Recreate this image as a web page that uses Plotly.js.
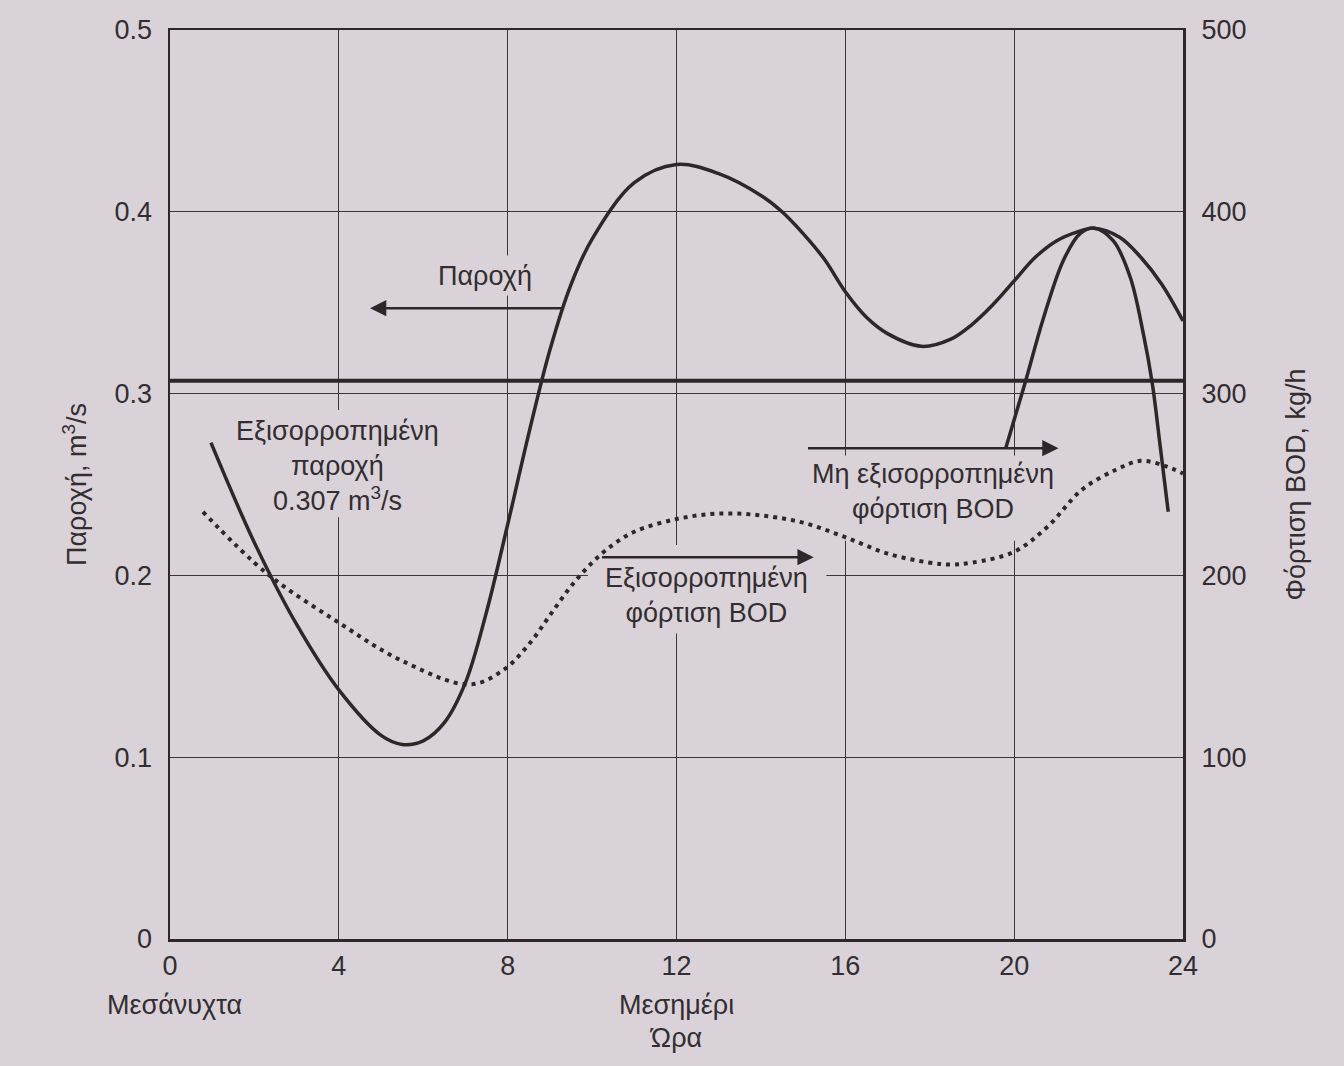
<!DOCTYPE html>
<html>
<head>
<meta charset="utf-8">
<script src="https://cdn.plot.ly/plotly-3.0.1.min.js"></script>
<style>
  html, body { margin: 0; padding: 0; background: #d9d3d9; }
  #chart { width: 1344px; height: 1066px; }
</style>
</head>
<body>
<div id="chart"></div>
<script>
// Flow (left axis, m3/s)
const flowHours = [0.97, 2, 3, 4, 5, 5.5, 6, 6.5, 7, 7.5, 8, 8.5, 9, 9.5, 10, 11, 12, 13, 14, 14.5, 15, 15.5, 16, 16.5, 17, 17.8, 18.5, 19, 19.5, 20, 20.5, 21, 21.5, 21.9, 22.5, 23, 23.5, 24];
const flowValues = [0.273, 0.218, 0.173, 0.137, 0.112, 0.107, 0.109, 0.119, 0.141, 0.180, 0.228, 0.278, 0.324, 0.360, 0.385, 0.416, 0.426, 0.421, 0.409, 0.400, 0.388, 0.374, 0.356, 0.342, 0.333, 0.326, 0.330, 0.338, 0.349, 0.362, 0.375, 0.384, 0.389, 0.391, 0.386, 0.375, 0.360, 0.340];

// Equalized flow (m3/s)
const equalizedFlow = 0.307;
const equalizedFlowHours = [0, 24];

// Equalized BOD load (right axis, kg/h) - dotted
const eqBodHours = [0.78, 2.3, 4, 5.5, 7.1, 7.9, 8.5, 9, 9.5, 10, 10.5, 11, 12, 13, 14, 15, 16, 17, 18, 18.5, 19, 20, 20.8, 21.6, 22.4, 23, 23.6, 24];
const eqBodValues = [235, 201, 174, 153, 140, 148, 162, 178, 194, 207, 217, 224, 231, 234, 233, 229, 221, 212, 207, 206, 207, 213, 227, 247, 258, 263, 260, 256];

// Unequalized BOD load (right axis, kg/h) - solid
const unBodHours = [19.8, 20.26, 20.7, 21.16, 21.56, 21.9, 22.35, 22.75, 23.06, 23.27, 23.46, 23.65];
const unBodValues = [270, 306, 342, 373, 388, 391, 384, 364, 333, 306, 271, 235];

// Axis ticks
const hourTicks = [0, 4, 8, 12, 16, 20, 24];
const flowTicks = [0, 0.1, 0.2, 0.3, 0.4, 0.5];
const flowTickText = ['0', '0.1', '0.2', '0.3', '0.4', '0.5'];
const bodTicks = [0, 100, 200, 300, 400, 500];

const ink = '#2e2729';
const paper = '#d9d3d9';
const fnt = {family: 'Liberation Sans, Arial, sans-serif', size: 27, color: '#332d30'};

const traces = [
  {x: equalizedFlowHours, y: [equalizedFlow, equalizedFlow], mode: 'lines', line: {color: ink, width: 4}, yaxis: 'y', hoverinfo: 'skip'},
  {x: flowHours, y: flowValues, mode: 'lines', line: {color: ink, width: 3.5, shape: 'spline', smoothing: 1}, yaxis: 'y'},
  {x: eqBodHours, y: eqBodValues, mode: 'lines', line: {color: ink, width: 4, dash: '4px,5px', shape: 'spline', smoothing: 1}, yaxis: 'y2'},
  {x: unBodHours, y: unBodValues, mode: 'lines', line: {color: ink, width: 3.5, shape: 'spline', smoothing: 1}, yaxis: 'y2'}
];

function txt(x, y, text) {
  return {x: x, y: y, xref: 'x', yref: 'y', text: text, showarrow: false, font: fnt, align: 'center'};
}
function arrow(x0, x1, y) {
  return {x: x1, y: y, ax: x0, ay: y, xref: 'x', yref: 'y', axref: 'x', ayref: 'y', text: '', showarrow: true, arrowhead: 2, arrowsize: 1.3, arrowwidth: 2.5, arrowcolor: ink};
}
function bottom(x, text) {
  return {x: x, y: -0.0726, xref: 'x', yref: 'paper', yanchor: 'middle', xanchor: 'center', text: text, showarrow: false, font: fnt};
}
// paper-coloured patches that interrupt the grid behind the labels (drawn under the curves)
function gap(x0, x1, y0, y1) {
  return {type: 'rect', xref: 'x', yref: 'y', x0: x0, x1: x1, y0: y0, y1: y1, fillcolor: paper, line: {width: 0}, layer: 'between'};
}

const layout = {
  width: 1344, height: 1066,
  paper_bgcolor: paper, plot_bgcolor: paper,
  margin: {l: 170, r: 161, t: 30, b: 127},
  showlegend: false,
  font: fnt,
  xaxis: {
    range: [0, 24], tickvals: hourTicks, ticktext: hourTicks.map(String),
    showgrid: true, gridcolor: '#3d3538', gridwidth: 1,
    showline: true, linecolor: ink, linewidth: 2.5, mirror: true,
    ticks: 'outside', ticklen: 1, tickcolor: 'rgba(0,0,0,0)',
    zeroline: false, tickfont: fnt,
    title: {text: 'Ώρα', font: fnt, standoff: 48}
  },
  yaxis: {
    range: [0, 0.5], tickvals: flowTicks, ticktext: flowTickText,
    showgrid: true, gridcolor: '#3d3538', gridwidth: 1,
    showline: true, linecolor: ink, linewidth: 2.5, mirror: true,
    ticks: 'outside', ticklen: 10, tickcolor: 'rgba(0,0,0,0)',
    zeroline: false, tickfont: fnt,
    title: {text: 'Παροχή, m<sup>3</sup>/s', font: fnt, standoff: 20}
  },
  yaxis2: {
    range: [0, 500], tickvals: bodTicks, ticktext: bodTicks.map(String),
    overlaying: 'y', side: 'right', showgrid: false, zeroline: false,
    ticks: 'outside', ticklen: 12, tickcolor: 'rgba(0,0,0,0)',
    tickfont: fnt,
    title: {text: 'Φόρτιση BOD, kg/h', font: fnt, standoff: 40}
  },
  shapes: [
    gap(1.5, 6.55, 0.232, 0.291),
    gap(6.2, 8.7, 0.354, 0.376),
    gap(9.9, 15.55, 0.168, 0.2167),
    gap(15.1, 21.05, 0.219, 0.266)
  ],
  annotations: [
    txt(7.46, 0.3647, 'Παροχή'),
    txt(3.96, 0.260, 'Εξισορροπημένη<br>παροχή<br>0.307 m<sup>3</sup>/s'),
    txt(12.7, 0.1887, 'Εξισορροπημένη<br>φόρτιση BOD'),
    txt(18.08, 0.2464, 'Μη εξισορροπημένη<br>φόρτιση BOD'),
    arrow(9.31, 4.74, 0.347),
    arrow(10.2, 15.25, 0.210),
    arrow(15.08, 21.05, 0.270),
    bottom(0.1, 'Μεσάνυχτα'),
    bottom(12, 'Μεσημέρι'),
    bottom(24.1, 'Μεσάνυχτα')
  ]
};

Plotly.newPlot('chart', traces, layout, {displayModeBar: false, staticPlot: true});
</script>
</body>
</html>
